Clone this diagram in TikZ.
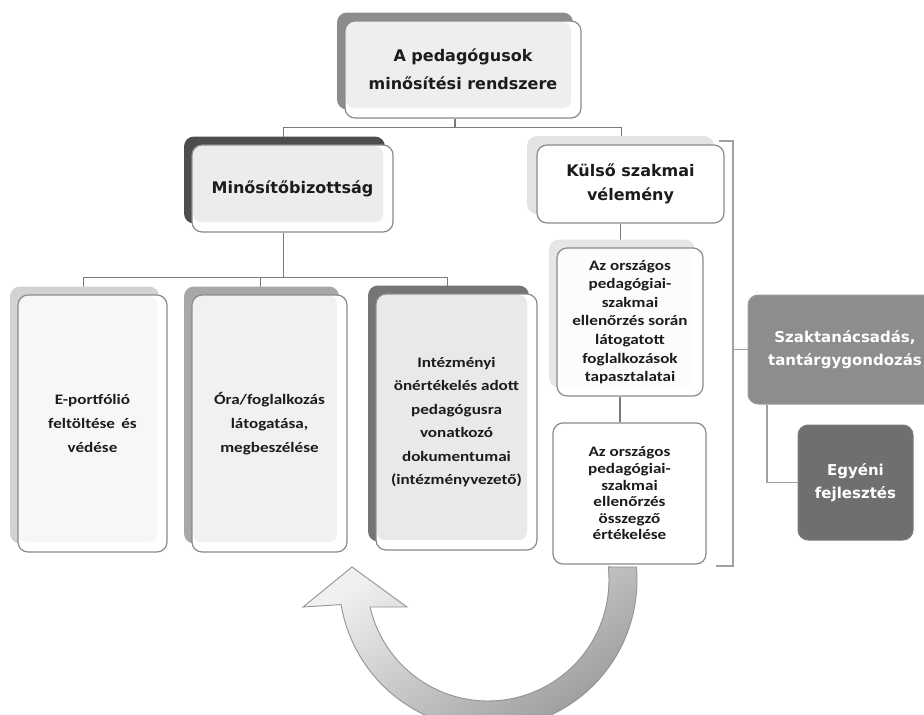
\documentclass[tikz,border=0pt]{standalone}
\usepackage{fontspec}
\setmainfont{DejaVu Sans}
\newfontfamily\bodyf[FakeStretch=1.18]{Carlito}
\usetikzlibrary{shadows,backgrounds}
\definecolor{linec}{HTML}{7A7A7A}
\definecolor{boxborder}{HTML}{8A8A8A}
\definecolor{txt}{HTML}{1C1C1C}
\definecolor{brc}{HTML}{A0A0A0}
\definecolor{sTop}{HTML}{8C8C8C}
\definecolor{sMin}{HTML}{4D4D4D}
\definecolor{sKul}{HTML}{E3E3E3}
\definecolor{sKa}{HTML}{E6E6E6}
\definecolor{sE}{HTML}{D2D2D2}
\definecolor{sO}{HTML}{A8A8A8}
\definecolor{sI}{HTML}{757575}
\definecolor{fTop}{HTML}{EEEEEE}
\definecolor{fMin}{HTML}{ECECEC}
\definecolor{fKa}{HTML}{FCFCFC}
\definecolor{fE}{HTML}{F7F7F7}
\definecolor{fO}{HTML}{F1F1F1}
\definecolor{fI}{HTML}{E9E9E9}
\definecolor{szakFill}{HTML}{8D8D8D}
\definecolor{szakDraw}{HTML}{9C9C9C}
\definecolor{egyFill}{HTML}{6F6F6F}
\definecolor{egyDraw}{HTML}{7C7C7C}
\begin{document}
\begin{tikzpicture}[x=1pt,y=-1pt,
  sbox/.style={draw=boxborder, line width=1.2pt, rounded corners=10pt, fill=white,
    inner sep=0pt, align=center, text=txt, minimum width=#1},
  ifill/.style={path picture={\fill[#1, rounded corners=8pt]
     ([xshift=1pt,yshift=-1pt]path picture bounding box.north west) rectangle
     ([xshift=-10pt,yshift=10pt]path picture bounding box.south east);}},
  shad/.style={general shadow={fill=#1, shadow xshift=-8pt, shadow yshift=8.5pt}},
  hfont/.style={font=\bfseries\fontsize{16}{28}\selectfont},
  bfont/.style={font=\bodyf\bfseries\fontsize{14.5}{#1}\selectfont},
  dbox/.style={rounded corners=10pt, inner sep=0pt, align=center, text=white,
    font=\bfseries\fontsize{15}{22.5}\selectfont},
  conn/.style={draw=linec, line width=1.2pt},
  bracketline/.style={draw=brc, line width=1.2pt},
]
\useasboundingbox (0,0) rectangle (924,715);

% curved arrow
\begin{scope}
\clip (0,0) rectangle (924,715);
\draw[draw=gray!85, line width=0.9pt, top color=gray!12, bottom color=gray!78, shading angle=35]
  plot[domain=-5:170.5, samples=60] ({488+149*cos(\x)},{580+149*sin(\x)})
  -- (303,607) -- (352,567) -- (407,607) -- (370,607)
  -- plot[domain=167:-6.2, samples=60] ({488+121*cos(\x)},{580+121*sin(\x)}) -- cycle;
\end{scope}

% boxes
\node[sbox=236pt, minimum height=97pt, shad=sTop, ifill=fTop, hfont]
  (top) at (463,69.5) {A pedagógusok\\minősítési rendszere};
\node[sbox=201pt, minimum height=87pt, shad=sMin, ifill=fMin, hfont]
  (min) at (292.5,188.5) {Minősítőbizottság};
\node[sbox=187pt, minimum height=78pt, general shadow={fill=sKul, shadow xshift=-10pt, shadow yshift=9pt}, font=\bfseries\fontsize{16}{24}\selectfont]
  (kul) at (630.5,184) {Külső szakmai\\vélemény};
\node[sbox=146pt, minimum height=148pt, shad=sKa, ifill=fKa, bfont=18.6]
  (k1) at (630,322) {Az országos\\pedagógiai-\\szakmai\\ellenőrzés során\\látogatott\\foglalkozások\\tapasztalatai};
\node[sbox=153pt, minimum height=141pt, bfont=16.6]
  (k2) at (629.5,493.5) {Az országos\\pedagógiai-\\szakmai\\ellenőrzés\\összegző\\értékelése};
\node[sbox=149pt, minimum height=257pt, shad=sE, ifill=fE, bfont=24]
  (e) at (92.5,423.5) {E-portfólió\\feltöltése \,és\\védése};
\node[sbox=155pt, minimum height=257pt, shad=sO, ifill=fO, bfont=24]
  (o) at (269.5,423.5) {Óra/foglalkozás\\látogatása,\\megbeszélése};
\node[sbox=161pt, minimum height=256pt, shad=sI, ifill=fI, bfont=23.4]
  (i) at (456.5,422) {Intézményi\\önértékelés adott\\pedagógusra\\vonatkozó\\dokumentumai\\(intézményvezető)};
\node[dbox, fill=szakFill, draw=szakDraw, line width=1pt, minimum width=194pt, minimum height=109pt]
  (szak) at (845,349.5) {Szaktanácsadás,\\tantárgygondozás};
\node[dbox, fill=egyFill, draw=egyDraw, line width=1pt, minimum width=115pt, minimum height=115pt]
  (egy) at (855.5,482.5) {Egyéni\\fejlesztés};

% connectors (behind the boxes and their shadows)
\begin{scope}[on background layer]
\fill[white] (0,0) rectangle (924,715);
\draw[conn] ([xshift=-8pt]top.south) -- ++(0,9) -| ([xshift=-9pt]min.north);
\draw[conn] ([xshift=-8pt]top.south) -- ++(0,9) -| ([xshift=-9pt]kul.north);
\draw[conn] ([xshift=-9pt]min.south) -- ++(0,45) -| ([xshift=-9pt]e.north);
\draw[conn] ([xshift=-9pt]min.south) -- ++(0,45) -| ([xshift=-9pt]o.north);
\draw[conn] ([xshift=-9pt]min.south) -- ++(0,45) -| ([xshift=-9pt]i.north);
\draw[conn] ([xshift=-10pt]kul.south) -- ([xshift=-10pt]kul.south |- k1.north);
\draw[conn] ([xshift=-10pt]k1.south) -- ([xshift=-10pt]k1.south |- k2.north);
\end{scope}

% bracket
\coordinate (brt) at (733,141);
\coordinate (brb) at (733,566);
\coordinate (brm) at (733,349.5);
\draw[bracketline] (719,141) -- (brt) -- (brb) -- (716,566);
\draw[bracketline] (brm) -- (szak.west);
\draw[bracketline] ([xshift=-78pt]szak.south) |- (egy.west);
\end{tikzpicture}
\end{document}
